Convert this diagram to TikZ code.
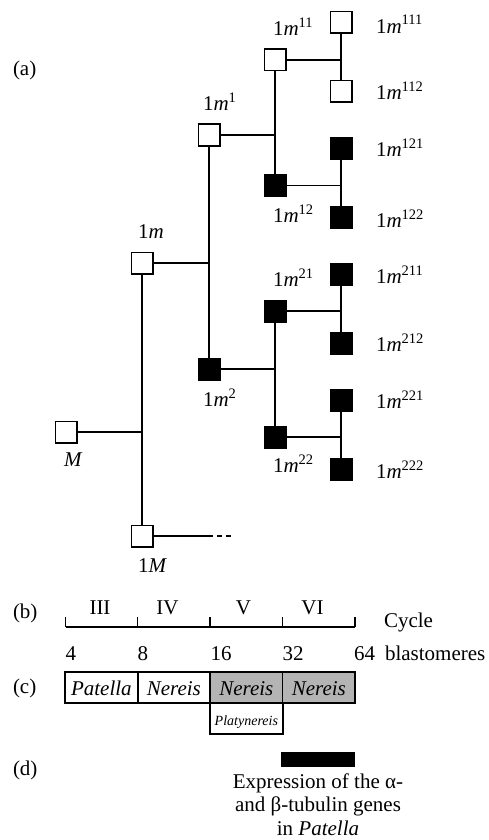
\documentclass[tikz,border=0pt]{standalone}
\usepackage{fontspec}
\setmainfont{Liberation Serif}
\newcommand\mysup[1]{\raisebox{8.3pt}{\fontsize{14.5}{15}\selectfont #1}}
\newcommand\mlbl[1]{1\textit{m}\mysup{#1}}
\begin{document}
\begin{tikzpicture}[x=1pt,y=-1pt,
  sq/.style={draw,line width=1.5pt,minimum size=21.5pt,inner sep=0pt,outer sep=0pt},
  wsq/.style={sq,fill=white},
  bsq/.style={sq,fill=black},
  ln/.style={line width=1.5pt},
  txt/.style={anchor=base west,inner sep=0pt,outer sep=0pt,font=\fontsize{21}{25}\selectfont},
  ctxt/.style={anchor=base,inner sep=0pt,outer sep=0pt,font=\fontsize{21}{25}\selectfont},
  cbox/.style={draw,line width=1.8pt,minimum width=72.7pt,minimum height=31.6pt,inner sep=0pt,
    text height=16pt,text depth=0pt,font=\fontsize{21}{25}\selectfont\itshape},
]
\useasboundingbox (0,0) rectangle (488,840);
% ---------- (a) tree ----------
\node[wsq] (n111) at (341,22.5) {};
\node[wsq] (n112) at (341,91.5) {};
\node[bsq] (n121) at (341,148.5) {};
\node[bsq] (n122) at (341,217.5) {};
\node[bsq] (n211) at (341,274) {};
\node[bsq] (n212) at (341,343) {};
\node[bsq] (n221) at (341,400) {};
\node[bsq] (n222) at (341,469) {};
\node[wsq] (n11) at (275,60) {};
\node[bsq] (n12) at (275,185.5) {};
\node[bsq] (n21) at (275,311) {};
\node[bsq] (n22) at (275,437) {};
\node[wsq] (n1) at (209,135) {};
\node[bsq] (n2) at (209,369) {};
\node[wsq] (nm) at (142,263) {};
\node[wsq] (nM) at (142,536) {};
\node[wsq] (nMM) at (66,432) {};
\coordinate (j11) at (341,60);
\coordinate (j12) at (341,185.5);
\coordinate (j21) at (341,311);
\coordinate (j22) at (341,437);
\coordinate (j1) at (275,135);
\coordinate (j2) at (275,369);
\coordinate (jm) at (209,263);
\coordinate (jM) at (142,432);
\coordinate (dA) at (208,536);
\coordinate (dB) at (231,536);
\draw[ln] (n111) -- (n112);
\draw[ln] (n121) -- (n122);
\draw[ln] (n211) -- (n212);
\draw[ln] (n221) -- (n222);
\draw[ln] (n11) -- (j11);
\draw[ln] (n12) -- (j12);
\draw[ln] (n21) -- (j21);
\draw[ln] (n22) -- (j22);
\draw[ln] (n11) -- (n12);
\draw[ln] (n21) -- (n22);
\draw[ln] (n1) -- (j1);
\draw[ln] (n2) -- (j2);
\draw[ln] (n1) -- (n2);
\draw[ln] (nm) -- (jm);
\draw[ln] (nm) -- (nM);
\draw[ln] (nMM) -- (jM);
\draw[ln] (nM) -- (dA);
\draw[ln,dash pattern=on 5pt off 4pt] (dA) -- (dB);
% labels
\node[txt] (la) at (13,76) {(a)};
\node[txt] (l111) at (376,33.3) {\mlbl{111}};
\node[txt] (l112) at (376,100) {\mlbl{112}};
\node[txt] (l121) at (376,156.7) {\mlbl{121}};
\node[txt] (l122) at (376,227.3) {\mlbl{122}};
\node[txt] (l211) at (376,283.3) {\mlbl{211}};
\node[txt] (l212) at (376,351.7) {\mlbl{212}};
\node[txt] (l221) at (376,408.3) {\mlbl{221}};
\node[txt] (l222) at (376,478.3) {\mlbl{222}};
\node[txt] (l11) at (273,36) {\mlbl{11}};
\node[txt] (l12) at (273,222.7) {\mlbl{12}};
\node[txt] (l21) at (273,286.7) {\mlbl{21}};
\node[txt] (l22) at (273,472.7) {\mlbl{22}};
\node[txt] (l1) at (203,110.7) {\mlbl{1}};
\node[txt] (l2) at (203,406.7) {\mlbl{2}};
\node[txt] (lm) at (138,238.3) {1\textit{m}};
\node[txt] (lM) at (138,572.7) {1\textit{M}};
\node[txt] (lMM) at (64,466.7) {\textit{M}};
% ---------- (b) ----------
\node[txt] (lb) at (13,618.3) {(b)};
\coordinate (t0) at (65.7,627);
\coordinate (t1) at (137.7,627);
\coordinate (t2) at (210,627);
\coordinate (t3) at (282.7,627);
\coordinate (t4) at (355,627);
\draw[line width=1.2pt] (t0) -- (t4);
\foreach \t in {t0,t1,t2,t3,t4} \draw[line width=1.2pt] (\t) -- ++(0,-10);
\node[ctxt] (c3) at (100,614) {III};
\node[ctxt] (c4) at (167.5,614) {IV};
\node[ctxt] (c5) at (243.5,614) {V};
\node[ctxt] (c6) at (312.5,614) {VI};
\node[txt] (cyc) at (384,627.7) {Cycle};
\node[txt] (b4) at (65.7,660) {4};
\node[txt] (b8) at (137.7,660) {8};
\node[txt] (b16) at (210.7,660) {16};
\node[txt] (b32) at (282.7,660) {32};
\node[txt] (b64) at (354,660) {64};
\node[txt] (bl) at (385,660) {blastomeres};
% ---------- (c) ----------
\node[txt] (lc) at (13,693.3) {(c)};
\node[cbox] (p1) at (101.35,687.5) {Patella};
\node[cbox] (p2) at (173.85,687.5) {Nereis};
\node[cbox,fill={rgb,255:red,180;green,180;blue,180}] (p3) at (246.35,687.5) {Nereis};
\node[cbox,fill={rgb,255:red,180;green,180;blue,180}] (p4) at (318.85,687.5) {Nereis};
\node[draw,line width=1.8pt,minimum width=72.7pt,minimum height=30.7pt,inner sep=0pt,
  text height=14pt,text depth=0pt,font=\fontsize{14}{16}\selectfont\itshape] (pl) at (246.35,718.65) {Platynereis};
% ---------- (d) ----------
\node[txt] (ld) at (13,775) {(d)};
\node[fill=black,minimum width=74pt,minimum height=15.6pt,inner sep=0pt] (bar) at (318,759.5) {};
\node[ctxt] (e1) at (318,788) {Expression of the α-};
\node[ctxt] (e2) at (318,811.7) {and β-tubulin genes};
\node[ctxt] (e3) at (318,835) {in \textit{Patella}};
\end{tikzpicture}
\end{document}
